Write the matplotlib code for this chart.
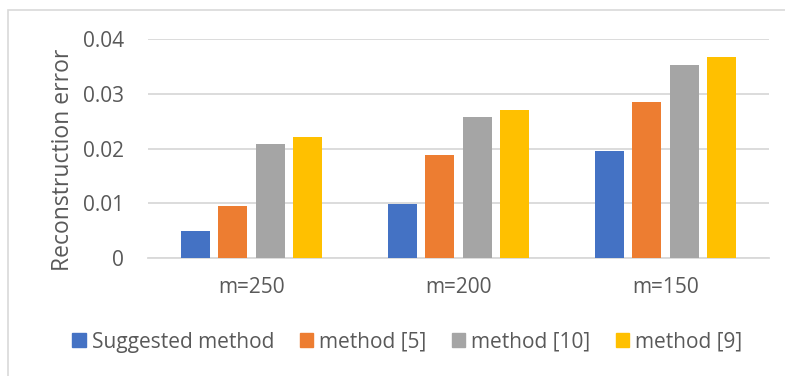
import matplotlib
matplotlib.use("Agg")
import matplotlib.pyplot as plt
import matplotlib.patches as mpatches
import numpy as np

plt.rcParams["font.family"] = ["Open Sans", "DejaVu Sans"]

groups = ["m=250", "m=200", "m=150"]
methods = ["Suggested method", "method [5]", "method [10]", "method [9]"]
suggested = [0.0049, 0.0098, 0.0196]
method_5 = [0.0094, 0.0188, 0.0286]
method_10 = [0.0208, 0.0257, 0.0353]
method_9 = [0.0221, 0.0270, 0.0367]
series = [suggested, method_5, method_10, method_9]
colors = ["#4472C4", "#ED7D31", "#A5A5A5", "#FFC000"]
yticks = [0, 0.01, 0.02, 0.03, 0.04]
ytick_labels = ["0", "0.01", "0.02", "0.03", "0.04"]

text_color = "#595959"
grid_color = "#D9D9D9"
fs = 15

fig = plt.figure(figsize=(7.85, 3.76), dpi=100)
ax = fig.add_axes([0.1885, 0.315, 0.7911, 0.58])

x = np.arange(len(groups))
step = 0.181
width = 0.14
for i, (vals, c) in enumerate(zip(series, colors)):
    ax.bar(x + (i - 1.5) * step, vals, width, color=c, label=methods[i], zorder=3)

ax.set_xlim(-0.5, len(groups) - 0.5)
ax.set_ylim(0, 0.04)
ax.set_yticks(yticks)
ax.set_yticklabels(ytick_labels)
ax.set_xticks(x)
ax.set_xticklabels(groups)
ax.yaxis.grid(True, color=grid_color, linewidth=1.3, zorder=0)
for s in ["top", "right", "left"]:
    ax.spines[s].set_visible(False)
ax.spines["bottom"].set_color(grid_color)
ax.spines["bottom"].set_linewidth(1.3)
ax.tick_params(axis="both", length=0, colors=text_color, labelsize=fs)
ax.tick_params(axis="y", pad=17)
ax.tick_params(axis="x", pad=14)
ax.set_ylabel("Reconstruction error", color=text_color, fontsize=16.5)
ax.yaxis.set_label_coords(-0.118, 0.447)

# chart area border, running off the right and bottom edges
frame = mpatches.Rectangle((8 / 785, -0.2), 1.2, 0.2 + 1 - 10 / 376,
                           transform=fig.transFigure, fill=False,
                           edgecolor=grid_color, linewidth=1.2, clip_on=False)
fig.patches.append(frame)

handles = [mpatches.Patch(color=c) for c in colors]
fig.legend(handles, methods, loc="center", bbox_to_anchor=(0.519, 0.09),
           ncol=4, frameon=False, fontsize=fs, handlelength=0.65,
           handleheight=0.65, handletextpad=0.3, columnspacing=1.2,
           labelcolor=text_color)

fig.savefig("out.png", dpi=100)
